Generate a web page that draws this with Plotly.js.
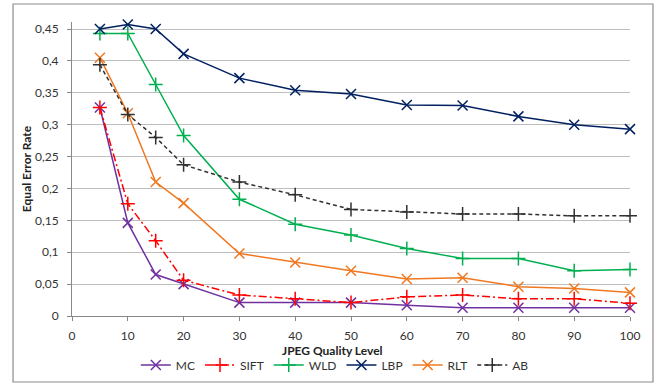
<!DOCTYPE html>
<html><head><meta charset="utf-8">
<script src="https://cdn.plot.ly/plotly-3.0.1.min.js"></script>
<style>html,body{margin:0;padding:0;background:#fff}#chart{width:663px;height:383px}</style>
</head><body><div id="chart"></div>
<script>
const quality = [5, 10, 15, 20, 30, 40, 50, 60, 70, 80, 90, 100];
const mc   = [0.327, 0.146, 0.065, 0.050, 0.021, 0.021, 0.021, 0.017, 0.013, 0.013, 0.013, 0.013];
const sift = [0.327, 0.176, 0.118, 0.056, 0.033, 0.027, 0.021, 0.030, 0.033, 0.027, 0.027, 0.020];
const wld  = [0.443, 0.443, 0.363, 0.283, 0.183, 0.144, 0.127, 0.106, 0.090, 0.090, 0.071, 0.073];
const lbp  = [0.450, 0.457, 0.450, 0.411, 0.373, 0.354, 0.348, 0.331, 0.330, 0.313, 0.300, 0.293];
const rlt  = [0.405, 0.318, 0.210, 0.177, 0.098, 0.084, 0.071, 0.058, 0.060, 0.046, 0.043, 0.037];
const ab   = [0.394, 0.316, 0.280, 0.237, 0.210, 0.190, 0.167, 0.163, 0.160, 0.160, 0.157, 0.157];
const seriesNames = ['MC', 'SIFT', 'WLD', 'LBP', 'RLT', 'AB'];
const yTickVals = [0, 0.05, 0.1, 0.15, 0.2, 0.25, 0.3, 0.35, 0.4, 0.45];
const yTickText = ['0', '0,05', '0,1', '0,15', '0,2', '0,25', '0,3', '0,35', '0,4', '0,45'];
const xTickVals = [0, 10, 20, 30, 40, 50, 60, 70, 80, 90, 100];
const xTitle = 'JPEG Quality Level';
const yTitle = 'Equal Error Rate';

const styles = [
  {color: '#7030A0', dash: 'solid', symbol: 'x-thin'},
  {color: '#FF0000', dash: '8px,3px,2px,3px', symbol: 'cross-thin'},
  {color: '#00B050', dash: 'solid', symbol: 'cross-thin'},
  {color: '#002060', dash: 'solid', symbol: 'x-thin'},
  {color: '#F07820', dash: 'solid', symbol: 'x-thin'},
  {color: '#303030', dash: '4px,3px', symbol: 'cross-thin'}
];
const allY = [mc, sift, wld, lbp, rlt, ab];

const traces = allY.map((ys, i) => ({
  x: quality, y: ys, name: seriesNames[i], type: 'scatter', mode: 'lines+markers',
  cliponaxis: false,
  line: {color: styles[i].color, width: 1.5, dash: styles[i].dash},
  marker: {symbol: styles[i].symbol, size: 10, color: styles[i].color,
           line: {color: styles[i].color, width: 1.5}}
}));

const fam = 'Lato, "Open Sans", sans-serif';
const layout = {
  width: 663, height: 383,
  margin: {l: 72, r: 33, t: 22, b: 67},
  paper_bgcolor: '#fff', plot_bgcolor: '#fff',
  font: {family: fam, size: 12, color: '#333'},
  showlegend: true,
  legend: {orientation: 'h', x: 0.471, xanchor: 'center', xref: 'paper',
           y: 0.047, yanchor: 'middle', yref: 'container',
           font: {family: fam, size: 12, color: '#333'}, itemwidth: 30, tracegroupgap: 0},
  xaxis: {range: [0, 100], tickvals: xTickVals, showgrid: false, zeroline: false,
          automargin: false,
          showline: true, linecolor: '#888', linewidth: 1,
          ticks: 'outside', ticklen: 4, tickcolor: '#888', ticklabelstandoff: 5,
          tickfont: {family: fam, size: 12, color: '#333'}},
  yaxis: {range: [0, 0.461], tickvals: yTickVals, ticktext: yTickText,
          automargin: false,
          showgrid: true, gridcolor: '#BEBEBE', gridwidth: 1, zeroline: false,
          showline: true, linecolor: '#888', linewidth: 1,
          ticks: 'outside', ticklen: 4, tickcolor: '#888', ticklabelstandoff: 6,
          tickfont: {family: fam, size: 12, color: '#333'},
          title: {text: '<b>' + yTitle + '</b>', standoff: 0,
                  font: {family: fam, size: 12, color: '#222'}}},
  annotations: [{text: '<b>' + xTitle + '</b>', xref: 'paper', yref: 'paper',
                 x: 0.4677, y: (316 - 350) / 294, xanchor: 'center', yanchor: 'middle',
                 showarrow: false, font: {family: fam, size: 12, color: '#222'}}],
  shapes: [{type: 'rect', xref: 'paper', yref: 'paper',
            x0: -0.1057, x1: 1.0412, y0: -0.2245, y1: 1.0612,
            line: {color: '#8C8C8C', width: 1.2}, fillcolor: 'rgba(0,0,0,0)'}]
};
Plotly.newPlot('chart', traces, layout, {displayModeBar: false, staticPlot: true});
</script></body></html>
